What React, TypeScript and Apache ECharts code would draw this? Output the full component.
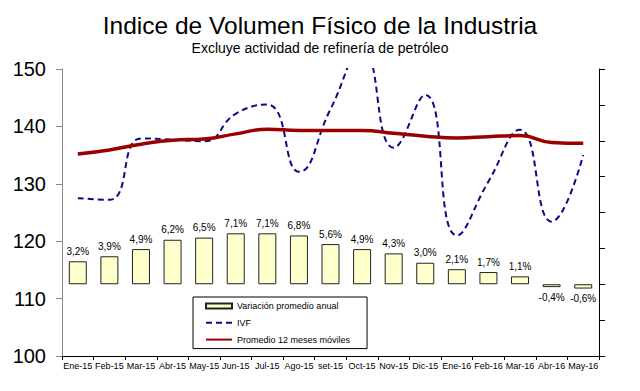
import React, { useEffect, useRef } from "react";
import * as echarts from "echarts";

const categories = [
  "Ene-15", "Feb-15", "Mar-15", "Abr-15", "May-15", "Jun-15", "Jul-15", "Ago-15", "set-15",
  "Oct-15", "Nov-15", "Dic-15", "Ene-16", "Feb-16", "Mar-16", "Abr-16", "May-16",
];
const variacion = [3.2, 3.9, 4.9, 6.2, 6.5, 7.1, 7.1, 6.8, 5.6, 4.9, 4.3, 3.0, 2.1, 1.7, 1.1, -0.4, -0.6];
const ivf = [127.5, 127.2, 137.9, 137.7, 137.4, 142.2, 143.8, 132.1, 143.0, 153.5, 136.3, 145.5, 121.0, 130.4, 139.4, 123.4, 135.0];
const promedio = [135.2, 135.9, 136.9, 137.6, 137.8, 138.7, 139.5, 139.3, 139.3, 139.3, 138.8, 138.3, 138.0, 138.2, 138.4, 137.2, 137.05];
const leftTicks = { min: 100, max: 150, interval: 10 };
const rightTicks = { min: -10, max: 30, interval: 5 };

const FONT = "'Liberation Sans', Arial, sans-serif";

export default function App() {
  const ref = useRef<HTMLDivElement>(null);
  useEffect(() => {
    if (!ref.current) return;
    const chart = echarts.init(ref.current, undefined, { renderer: "svg" });
    const hiddenSymbol = { color: "rgba(0,0,0,0)", borderWidth: 0, borderColor: "rgba(0,0,0,0)" };
    chart.setOption({
      animation: false,
      backgroundColor: "#ffffff",
      textStyle: { fontFamily: FONT },
      title: {
        text: "Indice de Volumen Físico de la Industria",
        subtext: "Excluye actividad de refinería de petróleo",
        left: "center",
        top: 8,
        itemGap: 3,
        textStyle: { fontSize: 24.5, fontWeight: "normal", color: "#000", fontFamily: FONT },
        subtextStyle: { fontSize: 14, color: "#000", fontFamily: FONT },
      },
      legend: {
        orient: "vertical",
        left: 193,
        top: 297,
        padding: [3, 17, 3, 12],
        backgroundColor: "#fff",
        borderColor: "#000",
        borderWidth: 1,
        itemWidth: 26,
        itemHeight: 5,
        itemGap: 4.8,
        textStyle: { fontSize: 9, color: "#000", lineHeight: 12, fontFamily: FONT },
        data: [
          { name: "Variación promedio anual", icon: "rect" },
          { name: "IVF", itemStyle: hiddenSymbol },
          { name: "Promedio 12 meses móviles", itemStyle: hiddenSymbol },
        ],
      },
      grid: { left: 62, right: 41, top: 69, bottom: 35 },
      xAxis: {
        type: "category",
        data: categories,
        boundaryGap: true,
        axisLine: { onZero: false, lineStyle: { color: "#000", width: 1 } },
        axisTick: { show: true, length: 4, interval: 0, lineStyle: { color: "#000" } },
        axisLabel: { interval: 0, fontSize: 9, color: "#000", margin: 5, fontFamily: FONT },
      },
      yAxis: [
        {
          type: "value",
          min: leftTicks.min,
          max: leftTicks.max,
          interval: leftTicks.interval,
          splitLine: { show: false },
          axisLine: { show: true, lineStyle: { color: "#888" } },
          axisTick: { show: true, length: 6, lineStyle: { color: "#888" } },
          axisLabel: { fontSize: 20, color: "#000", margin: 16, fontFamily: FONT },
        },
        {
          type: "value",
          position: "right",
          min: rightTicks.min,
          max: rightTicks.max,
          interval: rightTicks.interval,
          splitLine: { show: false },
          axisLine: { show: true, onZero: false, lineStyle: { color: "#000" } },
          axisTick: { show: true, length: 6, lineStyle: { color: "#000" } },
          axisLabel: { show: false },
        },
      ],
      series: [
        {
          name: "Variación promedio anual",
          type: "bar",
          yAxisIndex: 1,
          barWidth: 18,
          itemStyle: { color: "#FFFFCC", borderColor: "#222", borderWidth: 1 },
          label: {
            show: true,
            fontSize: 10,
            color: "#000",
            fontFamily: FONT,
            formatter: (p: any) => String(p.value.toFixed(1)).replace(".", ",") + "%",
          },
          data: variacion.map((v) => ({
            value: v,
            label: { position: v < 0 ? "bottom" : "top", distance: 5 },
          })),
        },
        {
          name: "IVF",
          type: "line",
          smooth: 0.5,
          symbol: "none",
          clip: true,
          itemStyle: { color: "#0a0a8a" },
          lineStyle: { color: "#0a0a8a", width: 2, type: [6, 4] },
          data: ivf,
        },
        {
          name: "Promedio 12 meses móviles",
          type: "line",
          smooth: 0.5,
          symbol: "none",
          itemStyle: { color: "#9a0000" },
          lineStyle: { color: "#9a0000", width: 3.5 },
          data: promedio,
        },
      ],
    });
    return () => chart.dispose();
  }, []);
  return (
    <div
      ref={ref}
      style={{ position: "fixed", left: 0, top: 0, width: 640, height: 391 }}
    />
  );
}
